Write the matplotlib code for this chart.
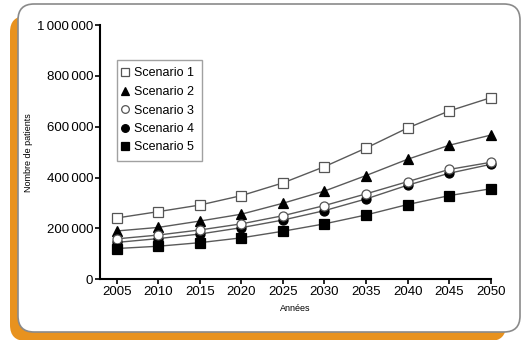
import matplotlib
matplotlib.use("Agg")
import matplotlib.pyplot as plt
from matplotlib.patches import FancyBboxPatch
from matplotlib.ticker import FuncFormatter

# Data
years = [2005, 2010, 2015, 2020, 2025, 2030, 2035, 2040, 2045, 2050]
scenario1 = [241000, 266000, 292000, 329000, 379000, 443000, 516000, 595000, 662000, 714000]
scenario2 = [190000, 204000, 229000, 256000, 299000, 347000, 408000, 472000, 527000, 567000]
scenario3 = [159000, 174000, 194000, 218000, 250000, 290000, 336000, 384000, 432000, 460000]
scenario4 = [145000, 160000, 178000, 203000, 233000, 270000, 316000, 370000, 417000, 452000]
scenario5 = [121000, 130000, 144000, 163000, 189000, 218000, 253000, 294000, 329000, 356000]
labels = ["Scenario 1", "Scenario 2", "Scenario 3", "Scenario 4", "Scenario 5"]

plt.rcParams['font.family'] = ['Liberation Sans Narrow', 'Liberation Sans', 'DejaVu Sans']

W, H = 528, 340
fig = plt.figure(figsize=(W / 100, H / 100), dpi=100)
fig.patch.set_facecolor("white")

# Orange shadow and white rounded frame, in inches (pixel / 100)
def box(x0, y0, x1, y1, **kw):
    # x0,y0 top-left ; x1,y1 bottom-right in image pixels
    return FancyBboxPatch((x0 / 100, (H - y1) / 100), (x1 - x0) / 100, (y1 - y0) / 100,
                          boxstyle="round,pad=0,rounding_size=0.16",
                          transform=fig.dpi_scale_trans, **kw)

fig.patches.append(box(10, 16, 506, 341, facecolor="#E8921E", edgecolor="none", zorder=0))
fig.patches.append(box(18, 4, 520, 332, facecolor="white", edgecolor="#8a8a8a",
                       linewidth=1.2, zorder=1))

ax = fig.add_axes([100 / W, (340 - 279.3) / H, (490.7 - 100) / W, (279.3 - 25) / H])
ax.set_facecolor("none")
ax.set_zorder(2)

series = [scenario1, scenario2, scenario4, scenario3, scenario5]
names = [labels[0], labels[1], labels[3], labels[2], labels[4]]
styles = [("s", "white"), ("^", "black"), ("o", "black"), ("o", "white"), ("s", "black")]
handles = {}
for vals, name, (m, fc) in zip(series, names, styles):
    h, = ax.plot(years, vals, color="#5a5a5a", linewidth=1.0, marker=m,
                 markersize=7 if m == "^" else 6.5, markerfacecolor=fc,
                 markeredgecolor="black" if fc == "black" else "#555555",
                 markeredgewidth=0.9, label=name, clip_on=False)
    handles[name] = h

ax.set_xlim(2003, 2050)
ax.set_ylim(0, 1000000)
ax.set_xticks(years)
ax.set_yticks([0, 200000, 400000, 600000, 800000, 1000000])
ax.yaxis.set_major_formatter(FuncFormatter(lambda v, p: f"{int(v):,}".replace(",", "\u2006")))

for s in ["top", "right"]:
    ax.spines[s].set_visible(False)
for s in ["left", "bottom"]:
    ax.spines[s].set_linewidth(1.5)
ax.tick_params(direction="out", length=3.5, width=1.2, labelsize=9.5, pad=1.5)

ax.set_xlabel("Années", fontsize=6.5, labelpad=4)
ax.set_ylabel("Nombre de patients", fontsize=6.5, labelpad=3)

leg = ax.legend([handles[n] for n in labels], labels, loc="upper left",
                bbox_to_anchor=(17 / 390.7, (279.3 - 60) / 254.3),
                borderaxespad=0, handlelength=0, handletextpad=0.8, fontsize=9,
                frameon=True, fancybox=False, borderpad=0.6, labelspacing=0.52,
                markerscale=0.85)
leg.get_frame().set_edgecolor("#8a8a8a")
leg.get_frame().set_linewidth(1.0)
for lh in leg.legend_handles:
    lh.set_linestyle("none")

fig.savefig("out.png", dpi=100)
